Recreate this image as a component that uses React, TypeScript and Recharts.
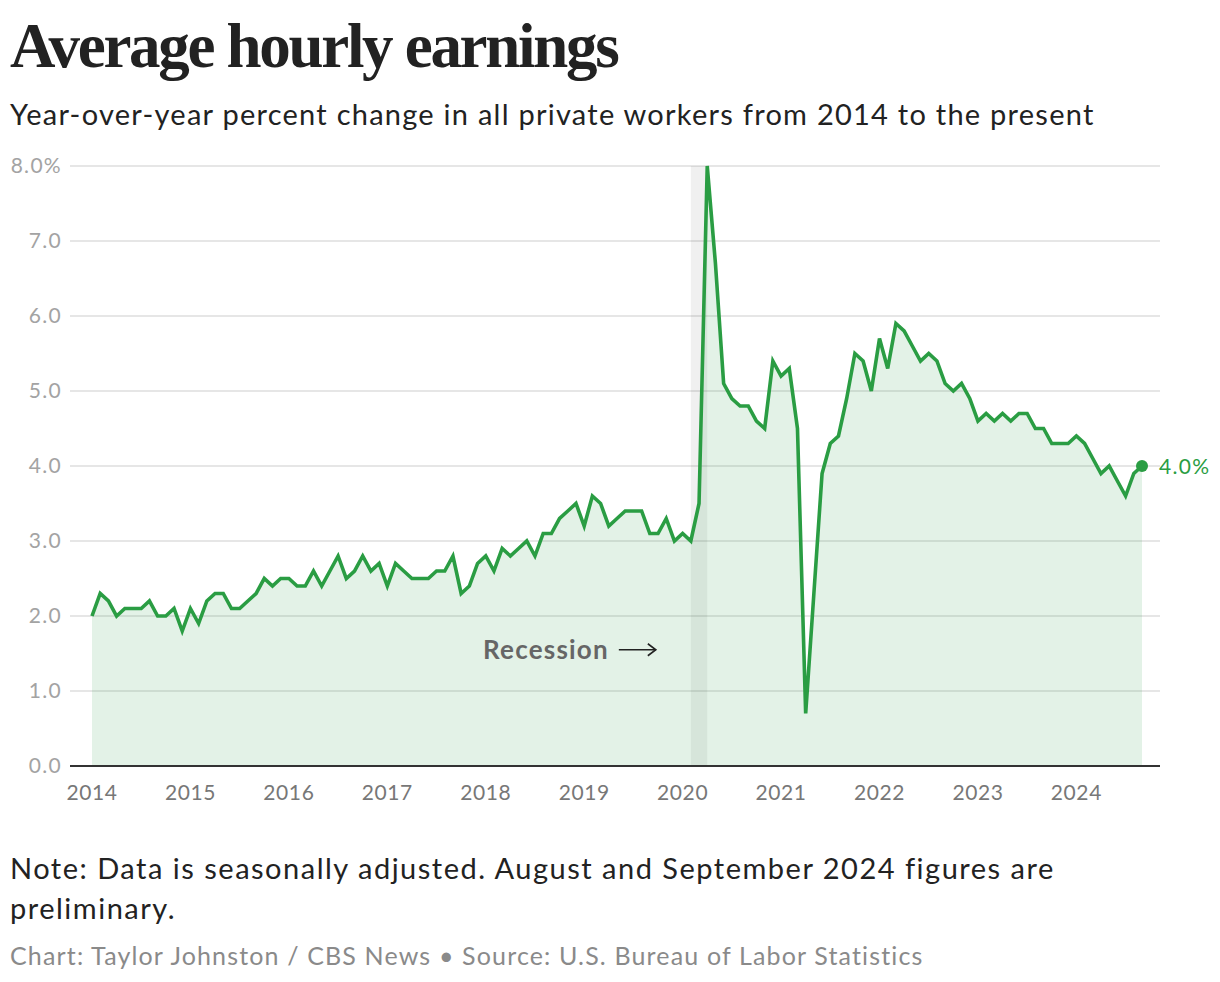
import React from 'react';
import {
  Area,
  CartesianGrid,
  ComposedChart,
  ReferenceArea,
  ReferenceDot,
  XAxis,
  YAxis,
} from 'recharts';

document.body.style.margin = '0';

// year-over-year % change, monthly, Jan 2014 .. Sep 2024
const y2014 = [2.0, 2.3, 2.2, 2.0, 2.1, 2.1, 2.1, 2.2, 2.0, 2.0, 2.1, 1.8];
const y2015 = [2.1, 1.9, 2.2, 2.3, 2.3, 2.1, 2.1, 2.2, 2.3, 2.5, 2.4, 2.5];
const y2016 = [2.5, 2.4, 2.4, 2.6, 2.4, 2.6, 2.8, 2.5, 2.6, 2.8, 2.6, 2.7];
const y2017 = [2.4, 2.7, 2.6, 2.5, 2.5, 2.5, 2.6, 2.6, 2.8, 2.3, 2.4, 2.7];
const y2018 = [2.8, 2.6, 2.9, 2.8, 2.9, 3.0, 2.8, 3.1, 3.1, 3.3, 3.4, 3.5];
const y2019 = [3.2, 3.6, 3.5, 3.2, 3.3, 3.4, 3.4, 3.4, 3.1, 3.1, 3.3, 3.0];
const y2020 = [3.1, 3.0, 3.5, 8.0, 6.7, 5.1, 4.9, 4.8, 4.8, 4.6, 4.5, 5.4];
const y2021 = [5.2, 5.3, 4.5, 0.7, 2.3, 3.9, 4.3, 4.4, 4.9, 5.5, 5.4, 5.0];
const y2022 = [5.7, 5.3, 5.9, 5.8, 5.6, 5.4, 5.5, 5.4, 5.1, 5.0, 5.1, 4.9];
const y2023 = [4.6, 4.7, 4.6, 4.7, 4.6, 4.7, 4.7, 4.5, 4.5, 4.3, 4.3, 4.3];
const y2024 = [4.4, 4.3, 4.1, 3.9, 4.0, 3.8, 3.6, 3.9, 4.0];

const years = [2014, 2015, 2016, 2017, 2018, 2019, 2020, 2021, 2022, 2023, 2024];
const yTicks = [0, 1, 2, 3, 4, 5, 6, 7, 8];
const recession = { from: 73, to: 75 }; // Feb 2020 .. Apr 2020 (month index)

const values = [
  ...y2014, ...y2015, ...y2016, ...y2017, ...y2018, ...y2019,
  ...y2020, ...y2021, ...y2022, ...y2023, ...y2024,
];
const data = values.map((v, i) => ({ t: i, v }));
const last = data[data.length - 1];
const xTicks = years.map((_, i) => i * 12);

const GREEN = '#2a9d43';
const SANS = 'Lato, "Open Sans", sans-serif';

const YTick = (props: any) => {
  const { x, y, payload } = props;
  const label = payload.value === 8 ? '8.0%' : payload.value.toFixed(1);
  return (
    <text x={x} y={y} dy={7} textAnchor="end" fill="#a3a3a3" fontSize={21} letterSpacing={1.3} fontFamily={SANS}>
      {label}
    </text>
  );
};

const XTick = (props: any) => {
  const { x, y, payload } = props;
  return (
    <text x={x} y={y} dy={26} textAnchor="middle" fill="#777" fontSize={21} letterSpacing={0.6} fontFamily={SANS}>
      {years[payload.value / 12]}
    </text>
  );
};

const RecessionLabel = (props: any) => {
  const x = props.viewBox.x;
  const y = props.viewBox.y;
  return (
    <g>
      <text x={x - 82} y={y} dy={9} textAnchor="end" fill="#666" fontSize={26} letterSpacing={1.2} fontWeight={700} fontFamily={SANS}>
        Recession
      </text>
      <line x1={x - 72} y1={y} x2={x - 35} y2={y} stroke="#222" strokeWidth={1.6} />
      <path d={`M${x - 43} ${y - 6} L${x - 35} ${y} L${x - 43} ${y + 6}`} fill="none" stroke="#222" strokeWidth={1.6} />
    </g>
  );
};

const EndLabel = (props: any) => {
  const vb = props.viewBox;
  const cx = vb.x + (vb.width ?? 0) / 2;
  const cy = vb.y + (vb.height ?? 0) / 2;
  return (
    <text x={cx + 17} y={cy} dy={8} fill={GREEN} fontSize={21} letterSpacing={1.3} fontFamily={SANS}>
      {last.v.toFixed(1)}%
    </text>
  );
};

export default function App() {
  return (
    <div style={{ position: 'relative', width: 1220, height: 982, background: '#fff', color: '#222' }}>
      <div
        style={{
          position: 'absolute', left: 10, top: 10,
          fontFamily: '"Liberation Serif", "DejaVu Serif", serif',
          fontWeight: 700, fontSize: 63, letterSpacing: -2.3, lineHeight: '72px',
        }}
      >
        Average hourly earnings
      </div>
      <div style={{ position: 'absolute', left: 10, top: 94, fontFamily: SANS, fontSize: 29, letterSpacing: 1.25, lineHeight: '40px' }}>
        Year-over-year percent change in all private workers from 2014 to the present
      </div>

      <div style={{ position: 'absolute', left: 0, top: 0 }}>
        <ComposedChart width={1220} height={830} data={data} margin={{ top: 166, right: 60, bottom: 34, left: 10 }}>
          <CartesianGrid vertical={false} stroke="#e6e6e6" strokeWidth={2} />
          <XAxis
            dataKey="t"
            type="number"
            domain={[-2.682, 130.194]}
            ticks={xTicks}
            tick={<XTick />}
            tickLine={false}
            axisLine={{ stroke: '#333', strokeWidth: 2 }}
            height={30}
            interval={0}
          />
          <YAxis
            domain={[0, 8]}
            ticks={yTicks}
            tick={<YTick />}
            axisLine={false}
            tickLine={false}
            tickSize={0}
            tickMargin={8}
            width={60}
            interval={0}
          />
          <ReferenceArea x1={recession.from} x2={recession.to} y1={0} y2={8} fill="#000" fillOpacity={0.06} stroke="none" />
          <Area
            type="linear"
            dataKey="v"
            stroke={GREEN}
            strokeWidth={3.6}
            fill={GREEN}
            fillOpacity={0.13}
            dot={false}
            activeDot={false}
            isAnimationActive={false}
          />
          <ReferenceDot x={recession.from} y={1.55} r={0} stroke="none" label={<RecessionLabel />} />
          <ReferenceDot x={last.t} y={last.v} r={6} fill={GREEN} stroke="none" label={<EndLabel />} />
        </ComposedChart>
      </div>

      <div style={{ position: 'absolute', left: 10, top: 848, width: 1200, fontFamily: SANS, fontSize: 29, letterSpacing: 1.5, lineHeight: '40px' }}>
        Note: Data is seasonally adjusted. August and September 2024 figures are
        <br />
        preliminary.
      </div>
      <div style={{ position: 'absolute', left: 10, top: 938, fontFamily: SANS, fontSize: 25, letterSpacing: 1.15, color: '#8a8a8a', lineHeight: '34px' }}>
        Chart: Taylor Johnston / CBS News • Source: U.S. Bureau of Labor Statistics
      </div>
    </div>
  );
}
